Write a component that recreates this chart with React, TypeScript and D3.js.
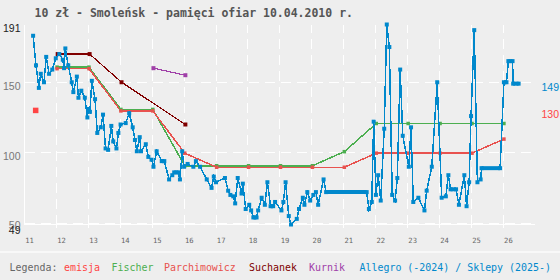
import React from 'react';
import * as d3 from 'd3';

// chart data
const years = [2011, 2012, 2013, 2014, 2015, 2016, 2017, 2018, 2019, 2020, 2021, 2022, 2023, 2024, 2025, 2026];
const yTicks = [191, 150, 100, 50, 49];

const emisjaDates = [2011.35];
const emisjaValues = [130];

const catalogDates = [2012.02, 2013.02, 2014.02, 2015.02, 2016.02, 2017.02, 2018.02, 2019.02, 2020.02, 2021.02, 2022.02, 2023.02, 2024.02, 2025.02, 2026.02];
const fischerValues = [160, 160, 130, 130, 90, 90, 90, 90, 90, 100, 120, 120, 120, 120, 120];
const parchimowiczValues = [160, 160, 130, 130, 100, 90, 90, 90, 90, 90, 100, 100, 100, 100, 110];

const suchanekDates = [2012.04, 2013.04, 2014.04, 2016.04];
const suchanekValues = [170, 170, 150, 120];

const kurnikDates = [2015.04, 2016.04];
const kurnikValues = [160, 155];

const allegroDates = [
  2011.27, 2011.36, 2011.45, 2011.51, 2011.61, 2011.68, 2011.77, 2011.87, 2011.98, 2012.09,
  2012.2, 2012.24, 2012.28, 2012.37, 2012.48, 2012.53, 2012.64, 2012.69, 2012.78, 2012.89,
  2012.97, 2013.0, 2013.05, 2013.11, 2013.21, 2013.28, 2013.39, 2013.46, 2013.54, 2013.62,
  2013.72, 2013.78, 2013.88, 2013.94, 2014.01, 2014.17, 2014.28, 2014.39, 2014.46, 2014.52,
  2014.61, 2014.65, 2014.8, 2014.88, 2014.98, 2015.04, 2015.14, 2015.3, 2015.38, 2015.53,
  2015.63, 2015.69, 2015.82, 2015.87, 2015.94, 2016.0, 2016.11, 2016.29, 2016.37, 2016.5,
  2016.71, 2016.86, 2016.93, 2017.0, 2017.28, 2017.38, 2017.45, 2017.54, 2017.6, 2017.68,
  2017.8, 2017.84, 2017.93, 2018.04, 2018.1, 2018.17, 2018.27, 2018.32, 2018.43, 2018.53,
  2018.61, 2018.71, 2018.79, 2018.85, 2019.05, 2019.11, 2019.18, 2019.28, 2019.35, 2019.53,
  2019.6, 2019.72, 2019.77, 2019.86, 2019.95, 2020.05, 2020.13, 2020.2, 2020.37, 2020.45,
  2021.72, 2021.79, 2021.88, 2021.94, 2022.01, 2022.08, 2022.16, 2022.27, 2022.35, 2022.43,
  2022.52, 2022.61, 2022.68, 2022.77, 2022.85, 2023.04, 2023.11, 2023.18, 2023.34, 2023.53,
  2023.6, 2023.76, 2023.93, 2024.07, 2024.2, 2024.28, 2024.35, 2024.52, 2024.61, 2024.78,
  2024.85, 2024.93, 2024.99, 2025.09, 2025.19, 2025.29, 2025.32, 2025.9, 2026.02, 2026.1,
  2026.16, 2026.29, 2026.31, 2026.48,
];
const allegroValues = [
  183, 162, 146, 156, 150, 168, 156, 159, 167, 170,
  166, 160, 174, 162, 150, 143, 154, 139, 144, 139,
  125, 131, 129, 151, 138, 114, 118, 127, 103, 102,
  119, 108, 103, 114, 120, 121, 128, 118, 109, 101,
  111, 101, 106, 97, 95, 90, 101, 94, 94, 81,
  84, 86, 86, 81, 101, 90, 92, 90, 94, 90,
  81, 75, 83, 79, 82, 73, 70, 69, 64, 82,
  71, 78, 60, 63, 59, 54, 54, 59, 68, 63,
  79, 62, 62, 65, 59, 65, 79, 55, 49, 53,
  60, 68, 63, 72, 66, 70, 72, 63, 81, 72,
  72, 60, 65, 122, 70, 84, 66, 117, 191, 175,
  70, 66, 82, 159, 112, 90, 118, 65, 68, 59,
  73, 90, 150, 68, 69, 84, 74, 74, 63, 84,
  62, 79, 126, 187, 79, 81, 89, 89, 150, 150,
  165, 165, 149, 149,
];

const legendItems = [
  { label: 'Legenda:', color: '#666666', x: 9.5 },
  { label: 'emisja', color: '#ff4444', x: 64 },
  { label: 'Fischer', color: '#4caf50', x: 111.5 },
  { label: 'Parchimowicz', color: '#e8524f', x: 164 },
  { label: 'Suchanek', color: '#800000', x: 249 },
  { label: 'Kurnik', color: '#a040a8', x: 309 },
  { label: 'Allegro (-2024) / Sklepy (2025-)', color: '#0088cc', x: 359.5 },
];

const W = 560;
const H = 280;

export default function App() {
  const x = d3.scaleLinear().domain([2011, 2027]).range([24.5, 535.2]);
  const y = d3.scaleLinear().domain([49, 191]).range([224.5, 24.5]);

  const pts = (dates: number[], values: number[]) => dates.map((d, i) => [x(d), y(values[i])] as [number, number]);
  const line = d3.line();

  const allegro = pts(allegroDates, allegroValues);
  const fischer = pts(catalogDates, fischerValues);
  const parch = pts(catalogDates, parchimowiczValues);
  const suchanek = pts(suchanekDates, suchanekValues);
  const kurnik = pts(kurnikDates, kurnikValues);

  // flat runs (same value twice in a row) are drawn as a thick bar
  const flats = allegro.slice(1).map((p, i) => [allegro[i], p]).filter(([a, b]) => a[1] === b[1]);

  const square = (p: [number, number], s: number, color: string, key: string | number) => (
    <rect key={key} x={p[0] - s / 2} y={p[1] - s / 2} width={s} height={s} fill={color} />
  );

  const lastAllegro = allegroValues[allegroValues.length - 1];

  return (
    <svg width={W} height={H} style={{ position: 'fixed', left: 0, top: 0 }}>
      <rect width={W} height={H} fill="#eeeeee" />
      <rect x={0} y={251} width={W} height={2} fill="#f8f8f8" />

      <text x={34.5} y={17} fontFamily="DejaVu Sans Mono" fontWeight="bold" fontSize={11.5} fill="#555555">
        10 zł - Smoleńsk - pamięci ofiar 10.04.2010 r.
      </text>

      {/* grid */}
      <g stroke="#ffffff" strokeWidth={1} shapeRendering="crispEdges">
        {[150, 100, 50].map((v) => (
          <line key={v} x1={x(2011)} x2={x(2027)} y1={y(v)} y2={y(v)} strokeDasharray="10,6" />
        ))}
        {years.slice(1).map((yr) => (
          <line key={yr} x1={x(yr)} x2={x(yr)} y1={y(49)} y2={y(191)} strokeDasharray="10,6" />
        ))}
        <line x1={x(2011)} x2={x(2027)} y1={y(49)} y2={y(49)} />
        <line x1={x(2011)} x2={x(2011)} y1={y(49)} y2={y(191)} />
        {years.slice(1).map((yr) => (
          <line key={'t' + yr} x1={x(yr)} x2={x(yr)} y1={y(49)} y2={y(49) + 3} />
        ))}
      </g>

      {/* y labels */}
      <g fontFamily="Liberation Sans" fontSize={10.5} textAnchor="end">
        {yTicks.map((v) => (
          <text
            key={v}
            x={20.5}
            y={y(v) + (v === 50 ? 6 : v === 49 ? 9 : 7.5)}
            fill={v === 191 || v === 49 ? '#222222' : '#777777'}
          >
            {v}
          </text>
        ))}
      </g>

      {/* x labels */}
      <g fontFamily="DejaVu Sans Mono" fontSize={7.2} fill="#666666">
        {years.map((yr) => (
          <text key={yr} x={x(yr) + 0.8} y={243}>
            {String(yr).slice(2)}
          </text>
        ))}
      </g>

      {/* catalogues */}
      <g fill="none" shapeRendering="crispEdges">
        <path d={line(fischer) || ''} stroke="#4caf50" strokeWidth={1.5} transform="translate(0,-1)" />
        <path d={line(parch) || ''} stroke="#e8524f" strokeWidth={1.5} transform="translate(0,0.5)" />
        <path d={line(suchanek) || ''} stroke="#800000" strokeWidth={1.2} />
        <path d={line(kurnik) || ''} stroke="#a040a8" strokeWidth={1.2} />
      </g>
      <g transform="translate(0,-1)">{fischer.map((p, i) => square(p, 3.5, '#4caf50', i))}</g>
      <g transform="translate(0,0.5)">{parch.map((p, i) => square(p, 3.5, '#e8524f', i))}</g>
      {suchanek.map((p, i) => square(p, 4, '#800000', 's' + i))}
      {kurnik.map((p, i) => square(p, 4, '#a040a8', 'k' + i))}
      {pts(emisjaDates, emisjaValues).map((p, i) => square(p, 5.5, '#ff4444', 'e' + i))}

      {/* allegro / shops */}
      <path d={line(allegro) || ''} fill="none" stroke="#0088cc" strokeWidth={1.5} shapeRendering="crispEdges" />
      {flats.map(([a, b], i) => (
        <line key={'f' + i} x1={a[0]} x2={b[0]} y1={a[1]} y2={b[1]} stroke="#0088cc" strokeWidth={4} />
      ))}
      {allegro.map((p, i) => square(p, 4, '#0088cc', 'a' + i))}

      {/* right labels */}
      <g fontFamily="Liberation Sans" fontSize={10.5}>
        <text x={541.5} y={y(lastAllegro) + 7.5} fill="#0088cc">{lastAllegro}</text>
        <text x={541.5} y={y(emisjaValues[0]) + 7.5} fill="#ff4444">{emisjaValues[0]}</text>
      </g>

      {/* legend */}
      <text y={271} fontFamily="DejaVu Sans Mono" fontSize={9.95}>
        {legendItems.map((it) => (
          <tspan key={it.label} x={it.x} fill={it.color}>
            {it.label}
          </tspan>
        ))}
      </text>
    </svg>
  );
}
